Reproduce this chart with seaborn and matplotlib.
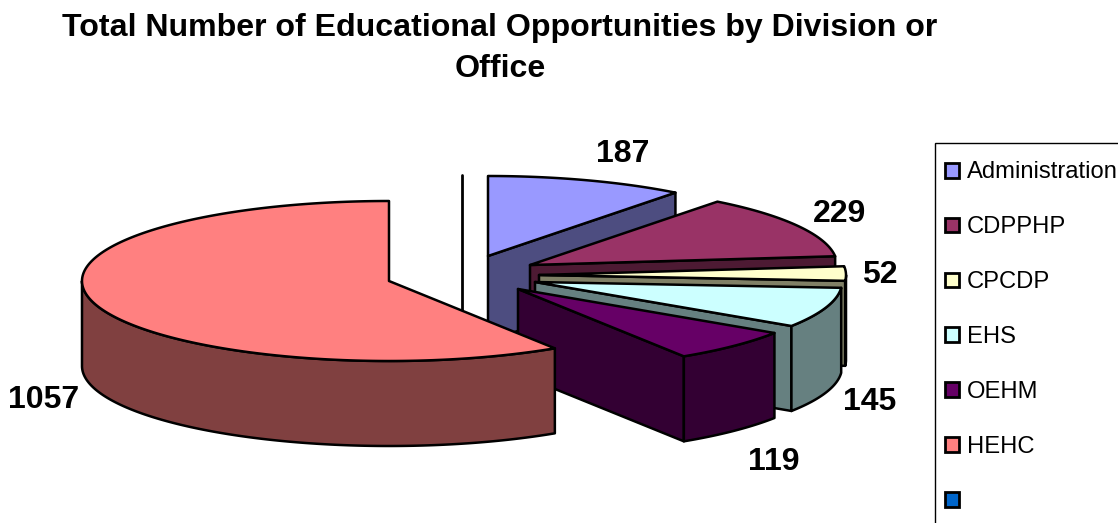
import numpy as np
import matplotlib
matplotlib.use("Agg")
import matplotlib.pyplot as plt
from matplotlib.patches import Patch, Rectangle
import seaborn as sns

# Chart data
divisions = ["Administration", "CDPPHP", "CPCDP", "EHS", "OEHM", "HEHC"]
opportunities = [187, 229, 52, 145, 119, 1057]
face_colors = ["#9999FF", "#993366", "#FFFFCC", "#CCFFFF", "#660066", "#FF8080"]
blank_entry_color = "#0066CC"
chart_title = "Total Number of Educational Opportunities by Division or\nOffice"

# Projection of the tilted pie, in canvas pixels
W, H = 1118, 523
RX, RY, DEPTH = 307.0, 80.0, 85.0
hub = np.array([389.0, 281.0])
explode = [(99, -25), (141, -16), (150, -6), (146, 1), (129, 8), (0, 0)]
label_xy = [(623, 154.5), (839, 213.5), (880, 275), (870, 402.5), (774, 461.5), (44, 400.5)]
EDGE = 1.8

sns.set_theme(style="white", rc={"font.family": ["Liberation Sans", "DejaVu Sans"]})
palette = sns.color_palette(face_colors)

fig = plt.figure(figsize=(W / 100, H / 100), dpi=100, facecolor="white")
ax = fig.add_axes([0, 0, 1, 1])
ax.set_xlim(0, W)
ax.set_ylim(H, 0)
ax.axis("off")


def rim(apex, a0, a1):
    """Points on the top rim between two clockwise angles measured from 12 o'clock."""
    t = np.radians(np.linspace(a0, a1, max(int(abs(a1 - a0)) * 2, 2)))
    return np.column_stack([apex[0] + RX * np.sin(t), apex[1] - RY * np.cos(t)])


def wall(pts, color, z):
    lowered = pts[::-1] + np.array([0, DEPTH])
    poly = np.vstack([pts, lowered])
    ax.fill(poly[:, 0], poly[:, 1], facecolor=color, edgecolor="black",
            linewidth=EDGE, joinstyle="round", zorder=z)


# Divider standing behind the exploded wedges
ax.plot([462, 462], [175, 330], color="black", lw=EDGE + 0.2, zorder=1)

ends = np.cumsum(opportunities) / np.sum(opportunities) * 360
starts = np.r_[0, ends[:-1]]

for i, (a0, a1) in enumerate(zip(starts, ends)):
    apex = hub + np.array(explode[i])
    base = np.array(palette[i])
    dark = base * 0.5
    z = 2 + i * 3
    if a1 < 180:
        wall(np.vstack([apex, rim(apex, a1, a1)[:1]]), dark, z)
    lo, hi = max(a0, 90), min(a1, 270)
    if lo < hi:
        wall(rim(apex, lo, hi), dark, z + 1)
    top = np.vstack([apex, rim(apex, a0, a1)])
    ax.fill(top[:, 0], top[:, 1], facecolor=base, edgecolor="black",
            linewidth=EDGE, joinstyle="round", zorder=z + 2)

for value, (x, y) in zip(opportunities, label_xy):
    ax.text(x, y, str(value), ha="center", va="center", fontsize=23,
            fontweight="bold", color="black", zorder=40)

ax.text(500, 48.5, chart_title, ha="center", va="center", fontsize=23.1,
        fontweight="bold", color="black", linespacing=1.48, zorder=40)

# Legend box runs off the right and bottom of the canvas
ax.add_patch(Rectangle((935, 143), 400, 500, facecolor="white", edgecolor="black",
                       linewidth=1.0, zorder=30))
handles = [Patch(facecolor=c, edgecolor="black", linewidth=EDGE + 0.2)
           for c in list(palette) + [blank_entry_color]]
legend = ax.legend(handles, divisions + [" "], loc="upper left",
                   bbox_to_anchor=(945, 161.5), bbox_transform=ax.transData,
                   frameon=False, fontsize=17.1, labelspacing=1.385, borderpad=0,
                   borderaxespad=0, handlelength=0.58, handleheight=0.58,
                   handletextpad=0.33, labelcolor="black")
legend.set_zorder(35)

fig.savefig("out.png", dpi=100, facecolor="white")
